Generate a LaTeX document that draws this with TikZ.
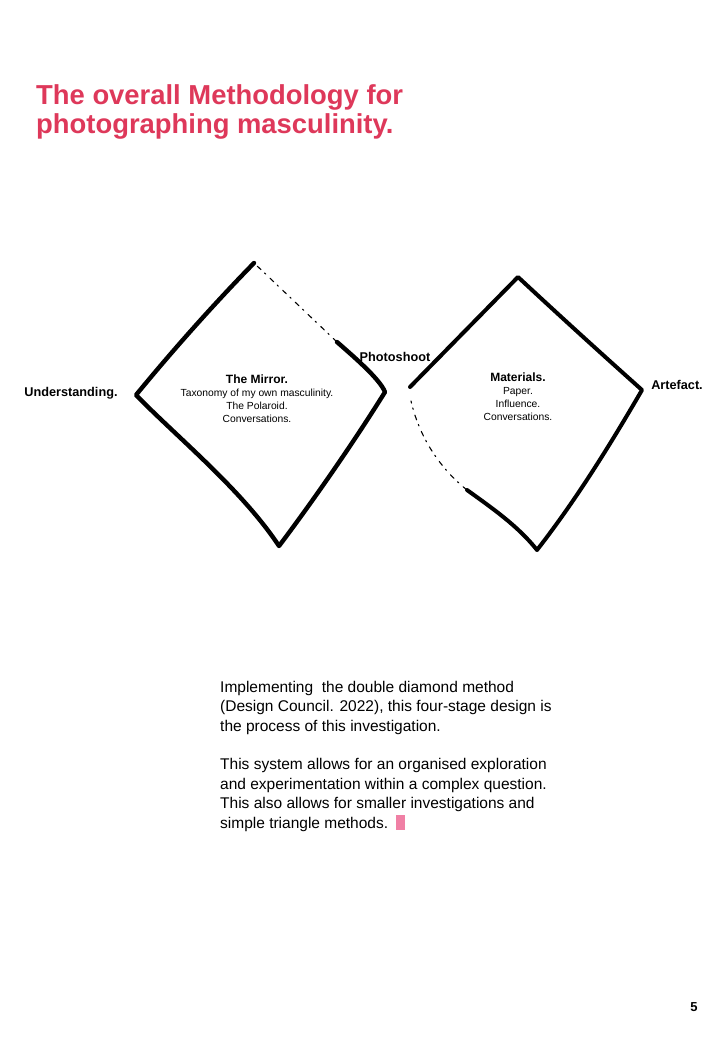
\documentclass[tikz,border=0pt]{standalone}
\usepackage{fontspec}
\setmainfont{Liberation Sans}
\usetikzlibrary{calc}

\definecolor{titlered}{RGB}{222,56,90}
\definecolor{markpink}{RGB}{240,128,165}

\tikzset{
    sketch/.style={line width=4.4pt, line cap=round, line join=round},
    faint/.style={line width=1.1pt, line cap=round, dash pattern=on 5pt off 6pt on 1.5pt off 5pt},
    stage/.style={font=\fontsize{12.7}{14}\selectfont\bfseries, inner sep=0pt},
    inside/.style={align=center, inner sep=0pt, font=\fontsize{10.3}{12.6}\selectfont},
    heading/.style={anchor=base west, inner sep=0pt, text=titlered, font=\fontsize{27.4}{30}\selectfont\bfseries},
}

\begin{document}
\begin{tikzpicture}[x=1pt,y=-1pt]

% Page
\useasboundingbox (0,0) rectangle (720,1040);
\fill[white] (0,0) rectangle (720,1040);

% Title
\node[heading] (title1) at (36,105) {The overall Methodology for};
\node[heading] (title2) at (36,134) {photographing masculinity.};

% Left diamond corners
\coordinate (T1) at (254,263);
\coordinate (L1) at (136,395);
\coordinate (B1) at (279,546);
\coordinate (R1) at (385,392);
\coordinate (M1) at (337,342);

\draw[sketch] (T1) .. controls (213,305) and (173,350) .. (L1)
    .. controls (178,438) and (242,490) .. (B1)
    .. controls (310,505) and (352,445) .. (R1)
    .. controls (380,380) and (360,362) .. (M1);
\draw[faint] (M1) -- (T1);

% Right diamond corners
\coordinate (T2) at (518,277);
\coordinate (L2) at (410,387);
\coordinate (R2) at (642,390);
\coordinate (B2) at (537,550);
\coordinate (S2) at (411,401);
\coordinate (M2) at (467,490);

\draw[sketch, line width=4pt] (L2) -- (T2)
    .. controls (562,318) and (604,356) .. (R2)
    .. controls (610,445) and (576,500) .. (B2)
    .. controls (518,526) and (492,508) .. (M2);
\draw[faint] (M2) .. controls (442,470) and (420,440) .. (S2);

% Stage labels
\node[stage] (understanding) at (71,393) {Understanding.};
\node[stage] (photoshoot) at (395,357) {Photoshoot};
\node[stage] (artefact) at (677,385) {Artefact.};

% Diamond contents
\node[inside, anchor=north] (mirror) at (257,374.5)
    {{\fontsize{12}{13}\selectfont\bfseries The Mirror.}\\[1pt]
     Taxonomy of my own masculinity.\\
     The Polaroid.\\
     Conversations.};
\node[inside, anchor=north] (materials) at (518,372.5)
    {{\fontsize{12}{13}\selectfont\bfseries Materials.}\\[1pt]
     Paper.\\
     Influence.\\
     Conversations.};

% Description
\node[anchor=north west, align=left, inner sep=0pt, font=\fontsize{15.5}{19.5}\selectfont]
    (description) at (220,681)
    {Implementing\ \ the double diamond method\\
     (Design Council. 2022), this four-stage design is\\
     the process of this investigation.\\[19pt]
     This system allows for an organised exploration\\
     and experimentation within a complex question.\\
     This also allows for smaller investigations and\\
     simple triangle methods.\hspace{8pt}{\color{markpink}\rule[-2pt]{9pt}{15pt}}};

% Page number
\node[anchor=base, inner sep=0pt, font=\fontsize{13}{14}\selectfont\bfseries] (pagenum) at (694,1011) {5};

\end{tikzpicture}
\end{document}
